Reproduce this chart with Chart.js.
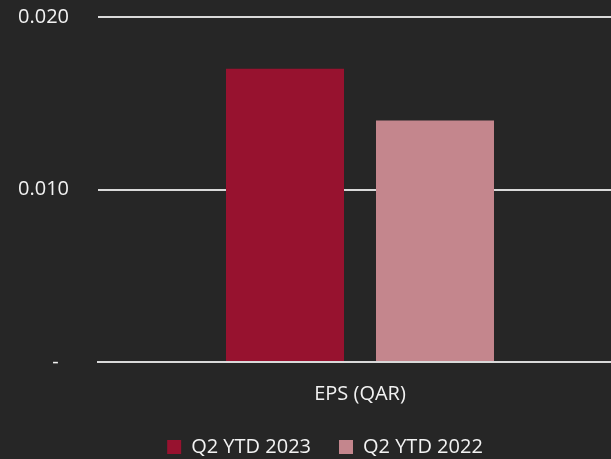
<!DOCTYPE html>
<html>
<head>
<meta charset="utf-8">
<script src="https://cdn.jsdelivr.net/npm/chart.js@4/dist/chart.umd.min.js"></script>
<style>
  html, body { margin: 0; padding: 0; background: #262626; overflow: hidden; }
  #wrap { width: 611px; height: 459px; overflow: hidden; }
  #box { width: 622px; height: 459px; }
</style>
</head>
<body>
<div id="wrap"><div id="box"><canvas id="epsCanvas"></canvas></div></div>
<script>
// data
const categories = ["EPS (QAR)"];
const seriesNames = ["Q2 YTD 2023", "Q2 YTD 2022"];
const eps2023 = [0.017];
const eps2022 = [0.014];
const yTicks = [0, 0.01, 0.02];

const textColor = "#f2f2f2";
const gridColor = "#d9d9d9";

// nudge the legend, Excel placed it off centre
const legendShift = {
    id: "legendShift",
    afterLayout(chart) {
        chart.legend.left += 14;
        chart.legend.right += 14;
        chart.legend.top -= 17;
        chart.legend.bottom -= 17;
    },
};

const epsChart = new Chart(document.getElementById("epsCanvas"), {
    type: "bar",
    data: {
        labels: categories,
        datasets: [
            {
                label: seriesNames[0],
                data: eps2023,
                backgroundColor: "rgb(151, 18, 47)",
                borderWidth: 0,
            },
            {
                label: seriesNames[1],
                data: eps2022,
                backgroundColor: "rgb(196, 134, 141)",
                borderWidth: 0,
            },
        ],
    },
    options: {
        responsive: true,
        maintainAspectRatio: false,
        animation: false,
        categoryPercentage: 0.5725,
        barPercentage: 0.7867,
        layout: { padding: { top: 17, left: 0, right: 0, bottom: -25 } },
        plugins: {
            tooltip: { enabled: false },
            legend: {
                position: "bottom",
                labels: {
                    color: textColor,
                    font: { family: "'Open Sans'", size: 20 },
                    boxWidth: 14,
                    boxHeight: 14,
                    padding: 28,
                },
            },
        },
        scales: {
            x: {
                grid: { display: false, drawTicks: false },
                border: { display: true, color: gridColor, width: 2 },
                ticks: {
                    color: textColor,
                    font: { family: "'Open Sans'", size: 20 },
                    padding: 20,
                },
            },
            y: {
                min: 0,
                max: 0.02,
                afterBuildTicks(scale) {
                    scale.ticks = yTicks.map((v) => ({ value: v }));
                },
                afterFit(scale) {
                    // fixed axis width, no extra room above/below for labels
                    scale.width = 98;
                    scale.paddingTop = 0;
                    scale.paddingBottom = 0;
                },
                grid: { color: gridColor, lineWidth: 2, drawTicks: false },
                border: { display: false },
                ticks: {
                    color: textColor,
                    font: { family: "'Open Sans'", size: 20 },
                    padding: 29,
                    callback: (v) => (v === 0 ? "-  " : v.toFixed(3)),
                },
            },
        },
    },
    plugins: [legendShift],
});
</script>
</body>
</html>
